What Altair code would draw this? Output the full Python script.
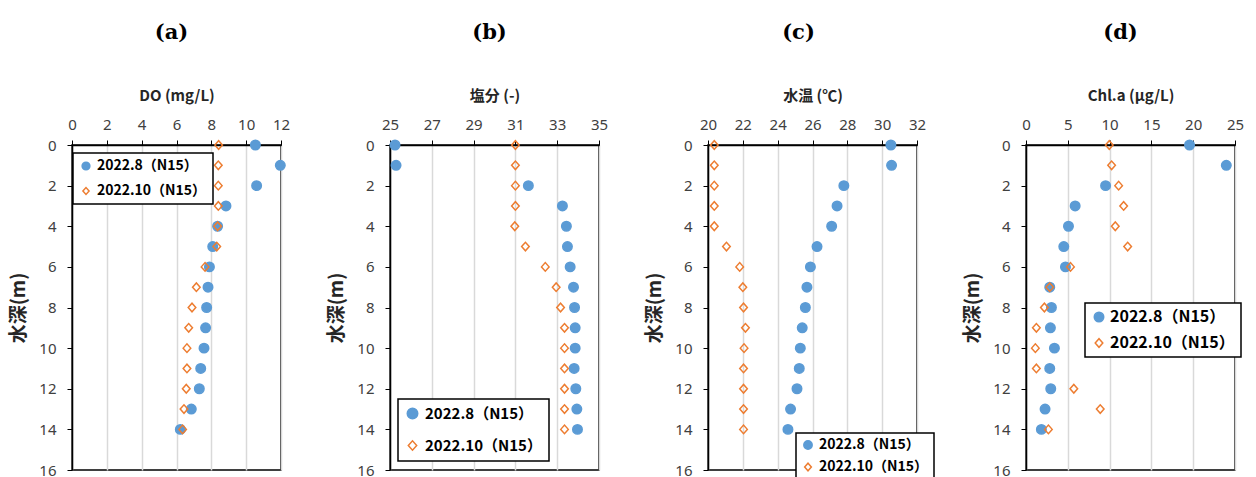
import altair as alt
import pandas as pd

depth = list(range(15))
series_names = ["2022.8（N15）", "2022.10（N15）"]

do_aug = [10.53, 11.96, 10.6, 8.84, 8.36, 8.08, 7.89, 7.81, 7.73, 7.67, 7.58, 7.39, 7.31, 6.85, 6.22]
do_oct = [8.42, 8.40, 8.40, 8.40, 8.36, 8.31, 7.64, 7.14, 6.89, 6.70, 6.60, 6.60, 6.56, 6.43, 6.35]

sal_aug = [25.24, 25.29, 31.62, 33.25, 33.44, 33.49, 33.62, 33.78, 33.83, 33.86, 33.86, 33.81, 33.89, 33.94, 33.97]
sal_oct = [31.0, 31.0, 31.0, 31.0, 30.97, 31.48, 32.43, 32.95, 33.16, 33.35, 33.35, 33.35, 33.35, 33.35, 33.35]

temp_aug = [30.50, 30.54, 27.80, 27.41, 27.10, 26.26, 25.88, 25.68, 25.59, 25.41, 25.30, 25.24, 25.11, 24.74, 24.59]
temp_oct = [20.36, 20.36, 20.36, 20.36, 20.36, 21.06, 21.82, 22.0, 22.04, 22.15, 22.07, 22.04, 22.04, 22.04, 22.04]

chl_aug = [19.56, 23.96, 9.52, 5.88, 5.08, 4.52, 4.72, 2.84, 3.04, 2.92, 3.4, 2.84, 2.96, 2.28, 1.84]
chl_oct = [9.96, 10.24, 11.08, 11.68, 10.68, 12.16, 5.32, 2.84, 2.2, 1.24, 1.12, 1.24, 5.72, 8.88, 2.68]

panel_titles = ["(a)", "(b)", "(c)", "(d)"]
x_titles = ["DO (mg/L)", "塩分 (-)", "水温 (℃)", "Chl.a (μg/L)"]
x_domains = [[0, 12], [25, 35], [20, 32], [0, 25]]
x_ticks = [list(range(0, 13, 2)), list(range(25, 36, 2)), list(range(20, 33, 2)), list(range(0, 26, 5))]
y_title = "水深(m)"
y_ticks = list(range(0, 17, 2))

BLUE = "#5B9BD5"
ORANGE = "#ED7D31"
DIAMOND = "M-0.8,0L0,-0.9L0.8,0L0,0.9Z"

# legend styling per panel (position relative to plot area)
legend_styles = [
    dict(x=1, y=8, fs=14, row=11, pad=6, sym=60, off=4),
    dict(x=8, y=254, fs=15, row=15, pad=7, sym=110, off=5),
    dict(x=88, y=288, fs=14, row=7, pad=5, sym=70, off=4),
    dict(x=59, y=158, fs=16, row=10, pad=6, sym=90, off=3),
]
title_dx = [-5, -5, -14, -10]


def panel(i, aug, octo):
    df = pd.DataFrame({
        "depth": depth + depth,
        "value": aug + octo,
        "series": [series_names[0]] * len(depth) + [series_names[1]] * len(depth),
    })
    ls = legend_styles[i]
    legend = alt.Legend(
        title=None, orient="none", legendX=ls["x"], legendY=ls["y"],
        strokeColor="black", fillColor="white", padding=ls["pad"],
        labelFont="Noto Sans CJK JP", labelFontSize=ls["fs"], labelFontWeight="bold",
        labelColor="black", rowPadding=ls["row"], symbolSize=ls["sym"],
        symbolStrokeWidth=1.5, labelOffset=ls["off"],
    )
    return alt.Chart(df, title=alt.Title(panel_titles[i], dx=title_dx[i])).mark_point(
        opacity=1, strokeWidth=1.5, size=90
    ).encode(
        x=alt.X("value:Q", scale=alt.Scale(domain=x_domains[i], nice=False, zero=False),
                axis=alt.Axis(orient="top", values=x_ticks[i], title=x_titles[i],
                              labelFlush=False, labelOverlap=False, grid=True,
                              titleFontSize=15, titlePadding=14, labelPadding=8)),
        y=alt.Y("depth:Q", scale=alt.Scale(domain=[0, 16], reverse=True, nice=False, zero=False),
                axis=alt.Axis(values=y_ticks, title=y_title, grid=False, labelFlush=False,
                              labelOverlap=False, titleFontSize=19, titlePadding=10,
                              labelPadding=11)),
        stroke=alt.Stroke("series:N", scale=alt.Scale(domain=series_names, range=[BLUE, ORANGE]), legend=legend),
        fill=alt.Fill("series:N", scale=alt.Scale(domain=series_names, range=[BLUE, "transparent"]), legend=legend),
        shape=alt.Shape("series:N", scale=alt.Scale(domain=series_names, range=["circle", DIAMOND]), legend=legend),
    ).properties(width=209, height=325)


charts = [
    panel(0, do_aug, do_oct),
    panel(1, sal_aug, sal_oct),
    panel(2, temp_aug, temp_oct),
    panel(3, chl_aug, chl_oct),
]

chart = alt.hconcat(*charts, spacing=109, bounds="flush").resolve_legend(
    stroke="independent", fill="independent", shape="independent"
).properties(
    padding={"left": 9, "top": 21, "right": 5, "bottom": 5},
    background="white",
).configure_axis(
    domainColor="black", domainWidth=1.5, tickColor="black", tickWidth=1, tickSize=5,
    labelFont="Noto Sans", labelFontSize=15, labelColor="#404040",
    titleFont="Noto Sans CJK JP", titleFontWeight="bold", titleColor="#262626",
    gridColor="#D9D9D9", gridWidth=1.5,
).configure_view(
    stroke="black", strokeWidth=1.5,
).configure_title(
    font="DejaVu Serif", fontSize=21, fontWeight="bold", color="black", offset=45, anchor="middle",
).configure_legend(
    strokeWidth=1.5,
)

chart.save("out.html", embed_options={"renderer": "svg", "actions": False})
